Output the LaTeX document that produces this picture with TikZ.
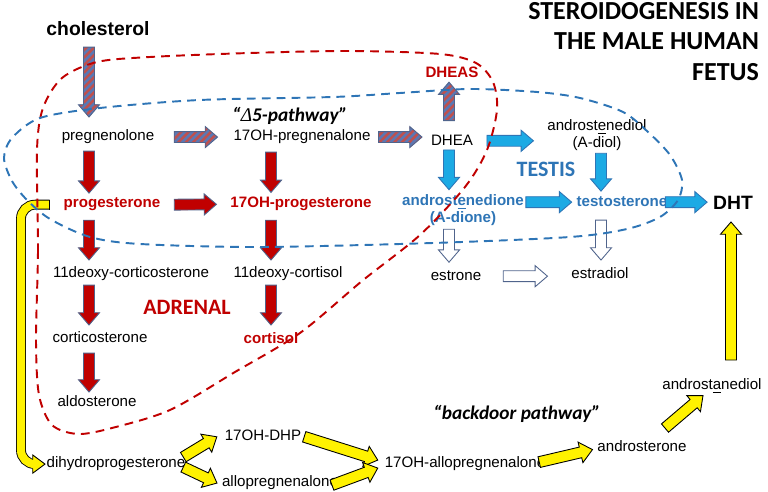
\documentclass[tikz,border=0pt]{standalone}
\usepackage{fontspec}
\setmainfont{Liberation Sans}
\newfontfamily\calibri{Carlito}
\newfontfamily\deltafont{Liberation Serif}
\usetikzlibrary{calc,patterns.meta}

\definecolor{darkred}{RGB}{192,0,0}
\definecolor{textblue}{RGB}{46,117,182}
\definecolor{skyblue}{RGB}{28,170,228}
\definecolor{slate}{RGB}{80,100,140}
\definecolor{hatchblue}{RGB}{90,120,180}
\definecolor{hatchred}{RGB}{192,80,77}

% shaft half width, head half width, head length
\def\arrsh{3.1pt}
\def\arrhd{6pt}
\def\arrtp{7pt}

% block arrow from #2 to #3
\newcommand{\fatarrow}[3][]{%
  \draw[#1] let \p1=(#2), \p2=(#3),
    \n1={atan2(\y2-\y1,\x2-\x1)}, \n2={veclen(\x2-\x1,\y2-\y1)} in
    [shift={(\p1)}, rotate=\n1]
    (0pt,-\arrsh) -- ({\n2-\arrtp},-\arrsh) -- ({\n2-\arrtp},-\arrhd)
    -- (\n2,0pt) -- ({\n2-\arrtp},\arrhd) -- ({\n2-\arrtp},\arrsh)
    -- (0pt,\arrsh) -- cycle;}

\begin{document}
\begin{tikzpicture}[x=0.02cm,y=-0.02cm,
  txt/.style={inner sep=0pt, outer sep=0pt, anchor=base, font=\fontsize{8.6}{9.4}\selectfont},
  redtxt/.style={txt, text=darkred, font=\fontsize{8.6}{9.4}\selectfont\bfseries},
  bluetxt/.style={txt, text=textblue, font=\fontsize{8.6}{9.4}\selectfont\bfseries},
  bigtxt/.style={txt, font=\fontsize{11}{13}\selectfont\bfseries},
  pathtxt/.style={txt, font=\calibri\fontsize{11}{13}\selectfont\bfseries\itshape},
  organtxt/.style={txt, font=\calibri\fontsize{12.5}{15}\selectfont\bfseries},
  redarr/.style={fill=darkred, draw=slate, line width=0.5pt},
  hatcharr/.style={draw=slate, line width=0.5pt, preaction={fill=hatchblue},
    pattern={Lines[angle=45,distance=3pt,line width=1.4pt]}, pattern color=hatchred},
  bluearr/.style={fill=skyblue, draw=textblue, line width=0.5pt},
  whitearr/.style={fill=white, draw=slate, line width=0.5pt},
  yelarr/.style={fill=yellow, draw=black, line width=0.5pt},
  yelbar/.style={draw=black, line width=0.5pt, double=yellow, double distance=4.6pt, rounded corners=8pt},
  reddash/.style={draw=darkred, line width=1.1pt, dash pattern=on 5pt off 3.5pt},
  bluedash/.style={draw=textblue, line width=1.1pt, dash pattern=on 5pt off 3.5pt}]
\useasboundingbox (0,0) rectangle (768,492);

\node[organtxt, anchor=north east, align=right, font=\calibri\fontsize{14.8}{17.4}\selectfont\bfseries] (title) at (759,2) {STEROIDOGENESIS IN\\THE MALE HUMAN\\FETUS};

% columns of the vertical arrows
\coordinate (colA) at (89,0);
\coordinate (colB) at (271,0);
\coordinate (colC) at (449,0);
\coordinate (colD) at (601,0);
\coordinate (colE) at (731,0);
\coordinate (colY) at (21,0);

% delta 5 pathway
\node[bigtxt] (chol) at (98,36) {cholesterol};
\node[txt] (preg) at (108,141) {pregnenolone};
\node[pathtxt] (delta) at (290,122) {“{\deltafont\mdseries Δ}5-pathway”};
\node[txt] (p17) at (302,141) {17OH-pregnenalone};
\node[txt] (dhea) at (452,146) {DHEA};
\node[redtxt] (dheas) at (452,78) {DHEAS};
\node[txt, anchor=center, align=center] (adiol) at (597,135) {androst\underline{e}nediol\\(A-diol)};
\node[organtxt, text=textblue] (testis) at (546,177) {TESTIS};

% delta 4 pathway
\node[redtxt] (prog) at (112,208) {progesterone};
\node[redtxt] (op17) at (301,208) {17OH-progesterone};
\node[bluetxt, anchor=center, align=center] (adione) at (463,210) {androst\underline{e}nedione\\(A-dione)};
\node[bluetxt] (testo) at (622,207) {testosterone};
\node[bigtxt] (dht) at (733,210) {DHT};
\node[txt] (doc) at (131,278) {11deoxy-corticosterone};
\node[txt] (dcort) at (288,278) {11deoxy-cortisol};
\node[txt] (estrone) at (456,281) {estrone};
\node[txt] (estradiol) at (600,279) {estradiol};
\node[organtxt, text=darkred] (adrenal) at (187,315) {ADRENAL};
\node[txt] (cortico) at (100,343) {corticosterone};
\node[redtxt] (cortisol) at (271,344) {cortisol};
\node[txt] (aldo) at (97,407) {aldosterone};

% backdoor pathway
\node[txt] (dhp) at (116,468) {dihydroprogesterone};
\node[txt] (ohdhp) at (263,441) {17OH-DHP};
\node[txt] (allo) at (280,487) {allopregnenalone};
\node[txt] (ohallo) at (465,468) {17OH-allopregnenalone};
\node[pathtxt] (backdoor) at (517,420) {“backdoor pathway”};
\node[txt] (andro) at (642,452) {androsterone};
\node[txt] (adiol2) at (712,390) {androst\underline{a}nediol};

% hatched arrows
\fatarrow[hatcharr]{$(chol.south -| colA)+(0,11)$}{$(preg.north -| colA)+(0,-13)$}
\fatarrow[hatcharr]{$(preg.east)+(20,0)$}{$(p17.west)+(-16,0)$}
\fatarrow[hatcharr]{$(p17.east)+(8,0)$}{$(p17.east -| dhea.west)+(-9,0)$}
\fatarrow[hatcharr]{$(dhea.north -| colC)+(0,-15)$}{$(dheas.south -| colC)+(0,4)$}

% red arrows
\fatarrow[redarr]{$(preg.south -| colA)+(0,7)$}{$(prog.north -| colA)+(0,-5)$}
\fatarrow[redarr]{$(prog.east)+(14,0)$}{$(op17.west)+(-14,0)$}
\fatarrow[redarr]{$(p17.south -| colB)+(0,8)$}{$(op17.north -| colB)+(0,-5)$}
\fatarrow[redarr]{$(prog.south -| colA)+(0,9)$}{$(doc.north -| colA)+(0,-7)$}
\fatarrow[redarr]{$(op17.south -| colB)+(0,9)$}{$(dcort.north -| colB)+(0,-7)$}
\fatarrow[redarr]{$(doc.south -| colA)+(0,4)$}{$(cortico.north -| colA)+(0,-7)$}
\fatarrow[redarr]{$(dcort.south -| colB)+(0,4)$}{$(cortisol.north -| colB)+(0,-8)$}
\fatarrow[redarr]{$(cortico.south -| colA)+(0,10)$}{$(aldo.north -| colA)+(0,-4)$}

% blue arrows
\fatarrow[bluearr]{$(dhea.east)+(14,0)$}{$(dhea.east -| adiol.west)+(-14,0)$}
\fatarrow[bluearr]{$(dhea.south -| colC)+(0,4)$}{$(adione.north -| colC)+(0,-5)$}
\fatarrow[bluearr]{$(adiol.south -| colD)+(0,3)$}{$(testo.north -| colD)+(0,-6)$}
\fatarrow[bluearr]{$(testo.west -| adione.east)+(2,0)$}{$(testo.west)+(-5,0)$}
\fatarrow[bluearr]{$(testo.east)+(-2,0)$}{$(testo.east -| dht.west)+(-6,0)$}

% white arrows
\fatarrow[whitearr]{$(adione.south -| colC)+(0,4)$}{$(estrone.north -| colC)+(0,-9)$}
\fatarrow[whitearr]{$(testo.south -| colD)+(0,13)$}{$(estradiol.north -| colD)+(0,-8)$}
\fatarrow[whitearr]{$(estrone.east)+(22,0)$}{$(estrone.east -| estradiol.west)+(-24,0)$}

% yellow arrows
\draw[yelbar] ($(prog.west)+(-14,0)$) -| (dhp.west -| colY) -- ($(dhp.west)+(-14,0)$);
\draw[line width=0.5pt] ($(prog.west)+(-14,0)$) ++(0pt,-2.8pt) -- ++(0pt,5.6pt);
\filldraw[fill=yellow, line width=0.5pt] ($(dhp.west)+(-14,0)$) ++(0pt,2.55pt) -- ++(0pt,2.65pt)
  -- ++(7pt,-5.2pt) -- ++(-7pt,-5.2pt) -- ++(0pt,2.65pt);
\fatarrow[yelarr]{$(dhp.east)+(-2,-7)$}{$(ohdhp.west)+(-8,1)$}
\fatarrow[yelarr]{$(dhp.east)+(-2,3)$}{$(allo.west)+(-5,0)$}
\fatarrow[yelarr]{$(ohdhp.east)+(3,1)$}{$(ohallo.west)+(-7,-4)$}
\fatarrow[yelarr]{$(allo.east)+(-6,2)$}{$(ohallo.west)+(-7,4)$}
\fatarrow[yelarr]{$(ohallo.east)+(-6,-2)$}{$(andro.west)+(-5,3)$}
\fatarrow[yelarr]{$(andro.north)+(23,-13)$}{$(adiol2.south)+(-9,2)$}
\fatarrow[yelarr]{$(adiol2.north -| colE)+(0,-19)$}{$(dht.south -| colE)+(0,12)$}

% adrenal and testis
\draw[reddash] plot[smooth cycle] coordinates {(37,150) (38,250) (36,340) (39,395) (52,425)
  (78,434) (112,428) (170,410) (235,372) (300,333) (362,281) (420,235) (465,187) (487,150)
  (497,110) (493,82) (476,63) (440,54) (350,51) (250,53) (150,57) (97,62) (62,78) (43,108)};
\draw[bluedash] plot[smooth cycle] coordinates {(4,158) (12,181) (27,200) (50,219) (90,237)
  (140,244) (260,247) (433,243) (570,237) (627,229) (660,217) (678,200) (682,180) (670,155)
  (648,132) (623,112) (580,98) (537,92) (470,89) (400,93) (333,97) (200,100) (100,108)
  (40,118) (12,138)};
\end{tikzpicture}
\end{document}
